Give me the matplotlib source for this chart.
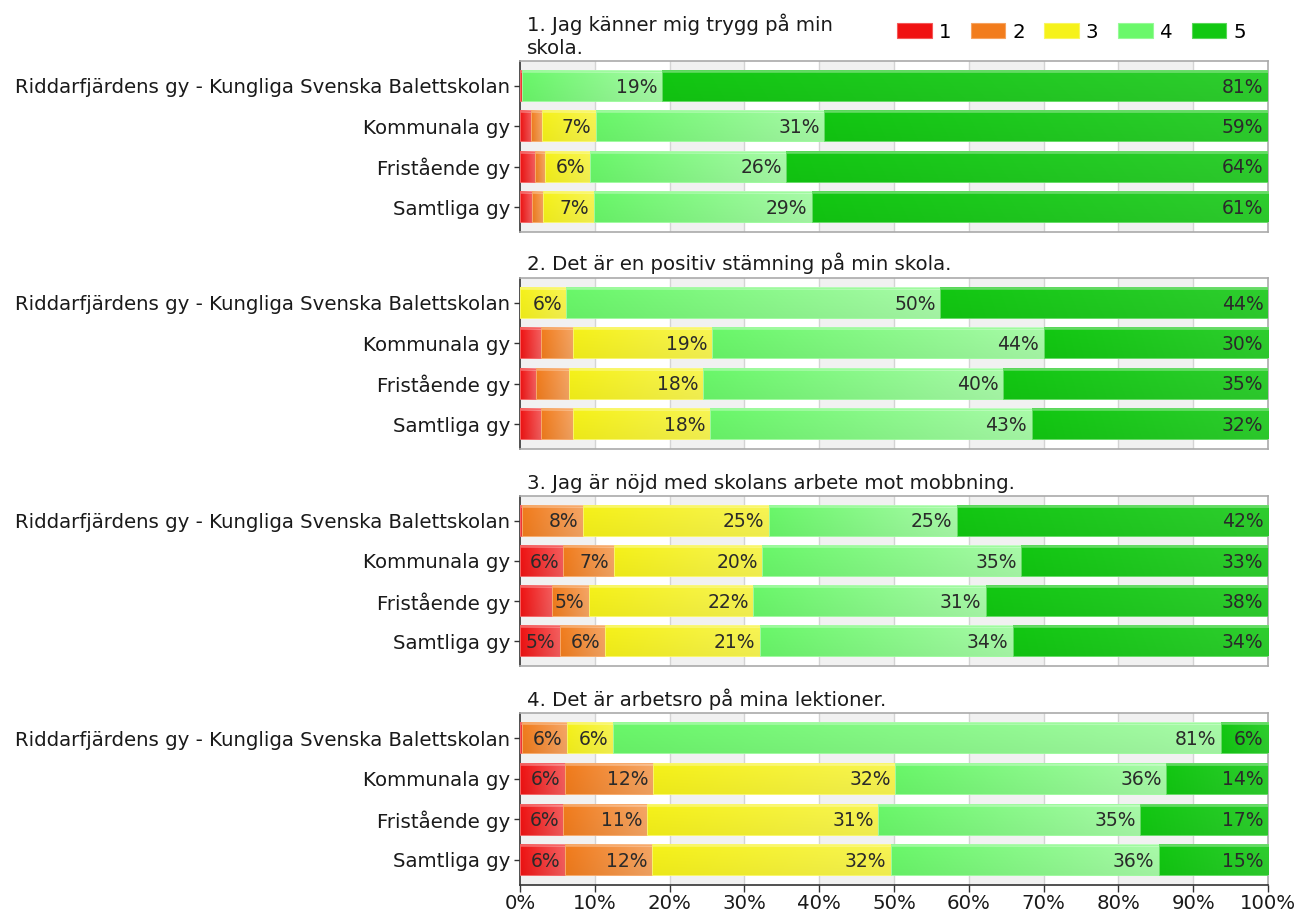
import numpy as np
import matplotlib
matplotlib.use("Agg")
import matplotlib.pyplot as plt
from matplotlib.colors import to_rgb
from matplotlib.patches import Rectangle, Patch

plt.rcParams['font.family'] = ['DejaVu Sans']

categories = ["Riddarfjärdens gy - Kungliga Svenska Balettskolan",
              "Kommunala gy", "Fristående gy", "Samtliga gy"]
levels = ["1", "2", "3", "4", "5"]
titles = ["1. Jag känner mig trygg på min\nskola.",
          "2. Det är en positiv stämning på min skola.",
          "3. Jag är nöjd med skolans arbete mot mobbning.",
          "4. Det är arbetsro på mina lektioner."]

# values per question: rows = categories, cols = levels 1..5 (percent)
q1 = [[0.3, 0.0, 0.0, 18.7, 81.0],
      [1.5, 1.4, 7.2, 30.6, 59.3],
      [2.0, 1.3, 6.0, 26.3, 64.4],
      [1.6, 1.5, 6.8, 29.1, 61.0]]
q2 = [[0.0, 0.0, 6.2, 50.0, 43.8],
      [2.8, 4.3, 18.6, 44.3, 30.0],
      [2.1, 4.5, 17.9, 40.1, 35.4],
      [2.8, 4.3, 18.3, 43.0, 31.6]]
q3 = [[0.3, 8.1, 24.9, 25.1, 41.6],
      [5.8, 6.7, 19.9, 34.6, 33.0],
      [4.3, 4.9, 22.0, 31.1, 37.7],
      [5.3, 6.1, 20.7, 33.8, 34.1]]
q4 = [[0.3, 6.0, 6.1, 81.3, 6.3],
      [6.0, 11.8, 32.4, 36.2, 13.6],
      [5.8, 11.2, 30.9, 35.0, 17.1],
      [6.0, 11.7, 31.9, 35.8, 14.6]]
questions = [q1, q2, q3, q4]

xticks = [0, 10, 20, 30, 40, 50, 60, 70, 80, 90, 100]
xticklabels = [f"{t}%" for t in xticks]

colors = ["#f01212", "#f27c1c", "#f6f21a", "#6af86a", "#12c812"]
lighten = [0.32, 0.32, 0.25, 0.42, 0.12]

W, H = 1298, 915
fig = plt.figure(figsize=(W / 100, H / 100), dpi=100)

boxes = [(61, 232), (278, 449), (496, 666), (713, 885)]
left_px, right_px = 520, 1268
bar_h = 0.75


def draw_seg(ax, x0, w, y, h, color, lt):
    base = np.array(to_rgb(color))
    nx, ny = 64, 32
    tx = np.linspace(0, 1, nx)
    ty = np.linspace(0, 1, ny)
    l = lt * tx[None, :, None]
    img = base[None, None, :] * (1 - l) + l
    img = np.repeat(img, ny, axis=0)
    top = (ty < 0.09)[:, None, None]
    img = np.where(top, img * 0.7 + 0.3, img)
    img = img * (1 - 0.04 * ty[:, None, None])
    img = np.clip(img, 0, 1)
    ax.imshow(img, extent=(x0, x0 + w, y + h / 2, y - h / 2), aspect='auto',
              interpolation='bilinear', zorder=3)
    edge = base * 0.65 + 0.35
    ax.add_patch(Rectangle((x0, y - h / 2), w, h, fill=False, edgecolor=edge,
                           linewidth=0.7, zorder=4))


for qi, (vals, (t_px, b_px)) in enumerate(zip(questions, boxes)):
    ax = fig.add_axes([left_px / W, 1 - b_px / H, (right_px - left_px) / W,
                       (b_px - t_px) / H])
    # background bands
    for k in range(0, 100, 20):
        ax.axvspan(k, k + 10, color="#f1f1f1", zorder=0, lw=0)
    for k in xticks[1:-1]:
        ax.axvline(k, color="#d4d4d4", lw=1.0, zorder=1)
    for ci, row in enumerate(vals):
        x0 = 0.0
        for li, v in enumerate(row):
            if v > 0:
                draw_seg(ax, x0, v, ci, bar_h, colors[li], lighten[li])
                if round(v) >= 5:
                    ax.text(x0 + v - 0.6, ci + 0.03, f"{round(v)}%", ha='right',
                            va='center', fontsize=13.5, color="#2a2a2a", zorder=6)
            x0 += v
    ax.set_xlim(0, 100)
    ax.set_ylim(3.615, -0.615)
    ax.set_yticks(range(len(categories)))
    ax.set_yticklabels(categories, fontsize=14.2, color="#1a1a1a")
    ax.tick_params(axis='y', length=4, width=1, color="#333333", pad=3)
    for s in ['top', 'right', 'bottom']:
        ax.spines[s].set_color("#aaaaaa")
        ax.spines[s].set_linewidth(1.2)
    ax.spines['left'].set_color("#333333")
    ax.spines['left'].set_linewidth(1.2)
    ax.set_xticks(xticks)
    if qi == 3:
        ax.set_xticklabels(xticklabels, fontsize=14.2, color="#1a1a1a")
        ax.tick_params(axis='x', length=5, width=1, color="#333333", pad=1.5)
        ax.spines['bottom'].set_color("#333333")
    else:
        ax.tick_params(axis='x', length=0, labelbottom=False)
    fig.text(527 / W, 1 - (t_px - 3.5) / H, titles[qi], ha='left', va='bottom',
             fontsize=14.2, color="#1a1a1a", linespacing=1.25)

handles = [Patch(facecolor=c, edgecolor=tuple(np.array(to_rgb(c)) * 0.7 + 0.3), linewidth=0.8)
           for c in colors]
fig.legend(handles, levels, loc='center left', bbox_to_anchor=(897 / W, 1 - 32 / H),
           ncol=5, frameon=False, fontsize=14.2, handlelength=1.75, handleheight=0.8,
           handletextpad=0.35, columnspacing=1.0, borderaxespad=0, borderpad=0)

fig.savefig("out.png", dpi=100)
